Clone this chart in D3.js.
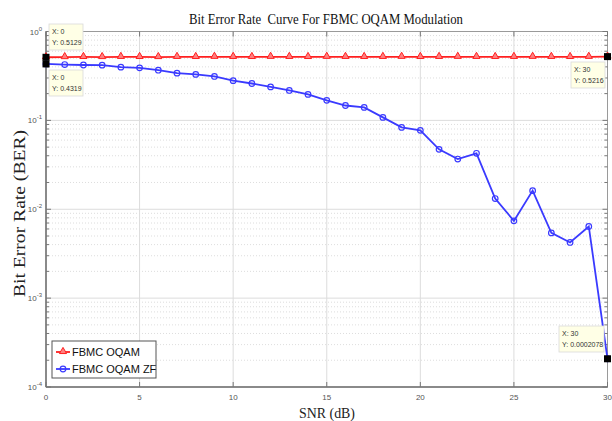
<!DOCTYPE html>
<html><head><meta charset="utf-8">
<script src="https://cdn.jsdelivr.net/npm/d3@7/dist/d3.min.js"></script>
<style>body{margin:0;background:#fff}svg{display:block}</style>
</head><body><svg id="c" width="612" height="421"></svg>
<script>
const snr = d3.range(0, 31);
const berOqam = [0.5129,0.515,0.517,0.516,0.518,0.517,0.516,0.518,0.517,0.519,0.518,0.517,0.519,0.518,0.517,0.519,0.518,0.517,0.518,0.519,0.517,0.518,0.519,0.518,0.517,0.518,0.519,0.518,0.517,0.519,0.5216];
const berZf = [0.4319,0.425,0.42,0.418,0.397,0.39,0.367,0.34,0.329,0.312,0.28,0.26,0.238,0.217,0.196,0.168,0.147,0.14,0.108,0.0834,0.0772,0.0472,0.0367,0.0426,0.0132,0.0074,0.0162,0.00542,0.00423,0.0064,0.0002078];
const xTicks = [0,5,10,15,20,25,30];
const yTicks = [1,0.1,0.01,0.001,0.0001];
const yExp = ["0","-1","-2","-3","-4"];
const tips = [
  {x:0, y:0.5129, label:["X: 0","Y: 0.5129"], bx:49, by:24},
  {x:0, y:0.4319, label:["X: 0","Y: 0.4319"], bx:49, by:70},
  {x:30, y:0.5216, label:["X: 30","Y: 0.5216"], bx:571, by:62},
  {x:30, y:0.0002078, label:["X: 30","Y: 0.0002078"], bx:559, by:326}
];

const svg = d3.select("#c");
const L=46, R=607.5, T=31.5, B=387;
const x = d3.scaleLinear().domain([0,30]).range([L,R]);
const y = d3.scaleLog().domain([1e-4,1]).range([B,T]);

// minor grid
const minor=[];
for(let e=-4;e<0;e++) for(let m=2;m<=9;m++) minor.push(m*Math.pow(10,e));
const g = svg.append("g");
g.selectAll(".mg").data(minor).enter().append("line")
  .attr("x1",L).attr("x2",R).attr("y1",d=>y(d)).attr("y2",d=>y(d))
  .attr("stroke","#d4d4d4").attr("stroke-width",0.8).attr("stroke-dasharray","1,2");
g.selectAll(".Mg").data(yTicks).enter().append("line")
  .attr("x1",L).attr("x2",R).attr("y1",d=>y(d)).attr("y2",d=>y(d))
  .attr("stroke","#dcdcdc").attr("stroke-width",1);
g.selectAll(".xg").data(xTicks).enter().append("line")
  .attr("x1",d=>x(d)).attr("x2",d=>x(d)).attr("y1",T).attr("y2",B)
  .attr("stroke","#dcdcdc").attr("stroke-width",1);

// box
svg.append("rect").attr("x",L).attr("y",T).attr("width",R-L).attr("height",B-T)
  .attr("fill","none").attr("stroke","#9a9a9a").attr("stroke-width",1);
svg.append("line").attr("x1",L).attr("x2",L).attr("y1",T).attr("y2",B).attr("stroke","#777").attr("stroke-width",1.5);
svg.append("line").attr("x1",L).attr("x2",R).attr("y1",B).attr("y2",B).attr("stroke","#777").attr("stroke-width",1.5);

// ticks
const tk = svg.append("g").attr("stroke","#777").attr("stroke-width",1);
xTicks.forEach(t=>{
  tk.append("line").attr("x1",x(t)).attr("x2",x(t)).attr("y1",B).attr("y2",B-5);
  tk.append("line").attr("x1",x(t)).attr("x2",x(t)).attr("y1",T).attr("y2",T+5);
});
yTicks.forEach(t=>{
  tk.append("line").attr("x1",L).attr("x2",L+5).attr("y1",y(t)).attr("y2",y(t));
  tk.append("line").attr("x1",R).attr("x2",R-5).attr("y1",y(t)).attr("y2",y(t));
});
minor.forEach(t=>{
  tk.append("line").attr("x1",L).attr("x2",L+3).attr("y1",y(t)).attr("y2",y(t));
  tk.append("line").attr("x1",R).attr("x2",R-3).attr("y1",y(t)).attr("y2",y(t));
});

// tick labels
svg.selectAll(".xl").data(xTicks).enter().append("text")
  .attr("x",d=>x(d)).attr("y",400).attr("text-anchor","middle")
  .attr("font-family","Liberation Sans, Arial, sans-serif").attr("font-size",8).attr("fill","#555")
  .text(d=>d);
yTicks.forEach((t,i)=>{
  const tx = svg.append("text").attr("x",L-4).attr("y",y(t)+3).attr("text-anchor","end")
    .attr("font-family","Liberation Sans, Arial, sans-serif").attr("font-size",8).attr("fill","#555");
  tx.append("tspan").text("10");
  tx.append("tspan").attr("dy",-4).attr("font-size",6).text(yExp[i]);
});

// title & labels
svg.append("text").attr("x",189).attr("y",24)
  .attr("font-family","Liberation Serif, serif").attr("font-size",15).attr("fill","#111")
  .attr("textLength",274).attr("lengthAdjust","spacingAndGlyphs")
  .attr("xml:space","preserve").text("Bit Error Rate  Curve For FBMC OQAM Modulation");
svg.append("text").attr("x",299).attr("y",418)
  .attr("font-family","Liberation Serif, serif").attr("font-size",15).attr("fill","#222")
  .attr("textLength",56).attr("lengthAdjust","spacingAndGlyphs").text("SNR (dB)");
svg.append("text").attr("transform","translate(25,297) rotate(-90)")
  .attr("font-family","Liberation Serif, serif").attr("font-size",16).attr("fill","#222")
  .attr("textLength",167).attr("lengthAdjust","spacingAndGlyphs").text("Bit Error Rate (BER)");

// series
const line = d3.line().x((d,i)=>x(snr[i])).y(d=>y(d));
svg.append("path").datum(berOqam).attr("d",line).attr("fill","none").attr("stroke","#ff2020").attr("stroke-width",1.8);
svg.append("path").datum(berZf).attr("d",line).attr("fill","none").attr("stroke","#3a3aff").attr("stroke-width",1.8);
const tri = d3.symbol().type(d3.symbolTriangle).size(22);
svg.selectAll(".tr").data(berOqam).enter().append("path")
  .attr("d",tri).attr("transform",(d,i)=>`translate(${x(snr[i])},${y(d)-0.5})`)
  .attr("fill","#ff8080").attr("stroke","#ff2020").attr("stroke-width",1);
svg.selectAll(".ci").data(berZf).enter().append("circle")
  .attr("cx",(d,i)=>x(snr[i])).attr("cy",d=>y(d)).attr("r",2.8)
  .attr("fill","none").attr("stroke","#3a3aff").attr("stroke-width",1.2);

// data tips
tips.forEach(t=>{
  const w = t.label[1].length>10 ? 45 : 34;
  svg.append("rect").attr("x",t.bx).attr("y",t.by).attr("width",w).attr("height",26)
    .attr("fill","#ffffe6").attr("stroke","#dadada").attr("stroke-width",0.8);
  t.label.forEach((s,j)=>{
    svg.append("text").attr("x",t.bx+3).attr("y",t.by+10+j*11)
      .attr("font-family","Liberation Sans, Arial, sans-serif").attr("font-size",7).attr("fill","#333").text(s);
  });
  svg.append("rect").attr("x",x(t.x)-3.5).attr("y",y(t.y)-3.5).attr("width",7).attr("height",7)
    .attr("fill","#000");
});

// legend
const lg = svg.append("g");
lg.append("rect").attr("x",52).attr("y",341).attr("width",104).attr("height",37)
  .attr("fill","#fff").attr("stroke","#555").attr("stroke-width",1);
const leg = [{n:"FBMC OQAM",c:"#ff2020",m:"tri"},{n:"FBMC OQAM ZF",c:"#3a3aff",m:"circ"}];
leg.forEach((l,i)=>{
  const yy = 352 + i*17;
  lg.append("line").attr("x1",56).attr("x2",70).attr("y1",yy).attr("y2",yy).attr("stroke",l.c).attr("stroke-width",1.8);
  if(l.m==="tri") lg.append("path").attr("d",tri).attr("transform",`translate(63,${yy-0.5})`).attr("fill","#ff8080").attr("stroke",l.c);
  else lg.append("circle").attr("cx",63).attr("cy",yy).attr("r",2.8).attr("fill","none").attr("stroke",l.c).attr("stroke-width",1.2);
  lg.append("text").attr("x",72).attr("y",yy+4).attr("font-family","Liberation Sans, Arial, sans-serif")
    .attr("font-size",11).attr("fill","#111").text(l.n);
});
</script></body></html>
